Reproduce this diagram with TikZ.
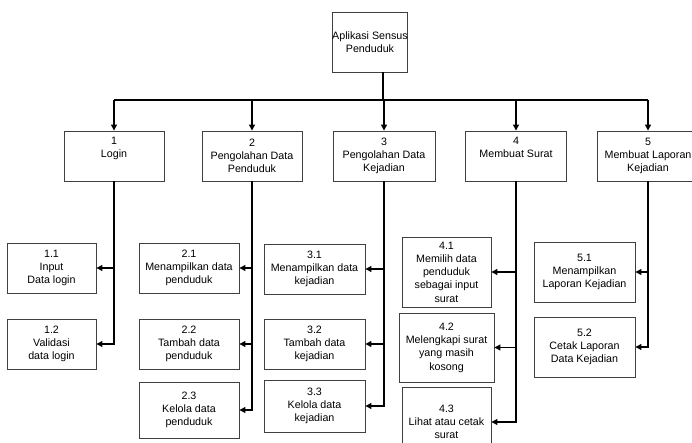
\documentclass[tikz,border=0pt]{standalone}
\usepackage{fontspec}
\setmainfont{Liberation Sans}
\usetikzlibrary{arrows.meta}
\begin{document}
\begin{tikzpicture}[x=1pt,y=-1pt,
  box/.style={draw=black!75,line width=0.9pt,fill=white,inner sep=0pt,align=center,
    font=\fontsize{10.7}{13.3}\selectfont},
  link/.style={draw=black,line width=1.2pt},
  arr/.style={link,-{Triangle[length=6pt,width=6pt]}}]
\clip (0,0) rectangle (692,443);
\fill[white] (0,0) rectangle (692,443);

% root
\node[box,minimum width=74pt,minimum height=60pt] (root) at (370,42) {Aplikasi Sensus\\Penduduk};

% first level (two-line captions keep an empty third line so they sit high)
\node[box,minimum width=100pt,minimum height=50pt] (n1) at (114,156) {1\\Login\\\strut};
\node[box,minimum width=100pt,minimum height=50pt] (n2) at (252,156) {2\\Pengolahan Data\\Penduduk};
\node[box,minimum width=102pt,minimum height=50pt] (n3) at (384,156) {3\\Pengolahan Data\\Kejadian};
\node[box,minimum width=101pt,minimum height=50pt] (n4) at (516,156) {4\\Membuat Surat\\\strut};
\node[box,minimum width=102pt,minimum height=50pt] (n5) at (648,156) {5\\Membuat Laporan\\Kejadian};

% second level
\node[box,minimum width=89pt,minimum height=50pt] (n11) at (51.5,268) {1.1\\Input\\Data login};
\node[box,minimum width=89pt,minimum height=50pt] (n12) at (51.5,344) {1.2\\Validasi\\data login};
\node[box,minimum width=100pt,minimum height=50pt] (n21) at (189,268) {2.1\\Menampilkan data\\penduduk};
\node[box,minimum width=100pt,minimum height=50pt] (n22) at (189,344) {2.2\\Tambah data\\penduduk};
\node[box,minimum width=100pt,minimum height=56pt] (n23) at (189,410) {2.3\\Kelola data\\penduduk};
\node[box,minimum width=101pt,minimum height=50pt] (n31) at (314.5,269) {3.1\\Menampilkan data\\kejadian};
\node[box,minimum width=101pt,minimum height=50pt] (n32) at (314.5,344) {3.2\\Tambah data\\kejadian};
\node[box,minimum width=101pt,minimum height=52pt] (n33) at (314.5,406) {3.3\\Kelola data\\kejadian};
\node[box,minimum width=89pt,minimum height=70pt] (n41) at (446.5,272) {4.1\\Memilih data\\penduduk\\sebagai input\\surat};
\node[box,minimum width=95pt,minimum height=69pt] (n42) at (446.5,347.5) {4.2\\Melengkapi surat\\yang masih\\kosong};
\node[box,minimum width=89pt,minimum height=70pt] (n43) at (446.5,422) {4.3\\Lihat atau cetak\\surat};
\node[box,minimum width=101pt,minimum height=60pt] (n51) at (584.5,272) {5.1\\Menampilkan\\Laporan Kejadian};
\node[box,minimum width=101pt,minimum height=60pt] (n52) at (584.5,347) {5.2\\Cetak Laporan\\Data Kejadian};

% bus from the root to the first level
\coordinate (bus) at (383,100);
\draw[link] (root.south -| bus) -- (bus);
\draw[link] (n1.north |- bus) -- (n5.north |- bus);
\foreach \n in {n1,n2,n3,n4,n5}
  \draw[arr] (\n.north |- bus) -- (\n.north);

% first level to second level
\foreach \p/\c in {n1/n11,n1/n12,n2/n21,n2/n22,n2/n23,n3/n31,n3/n32,n3/n33,
                   n4/n41,n4/n42,n4/n43,n5/n51,n5/n52}
  \draw[arr] (\p.south) |- (\c.east);
\end{tikzpicture}
\end{document}
